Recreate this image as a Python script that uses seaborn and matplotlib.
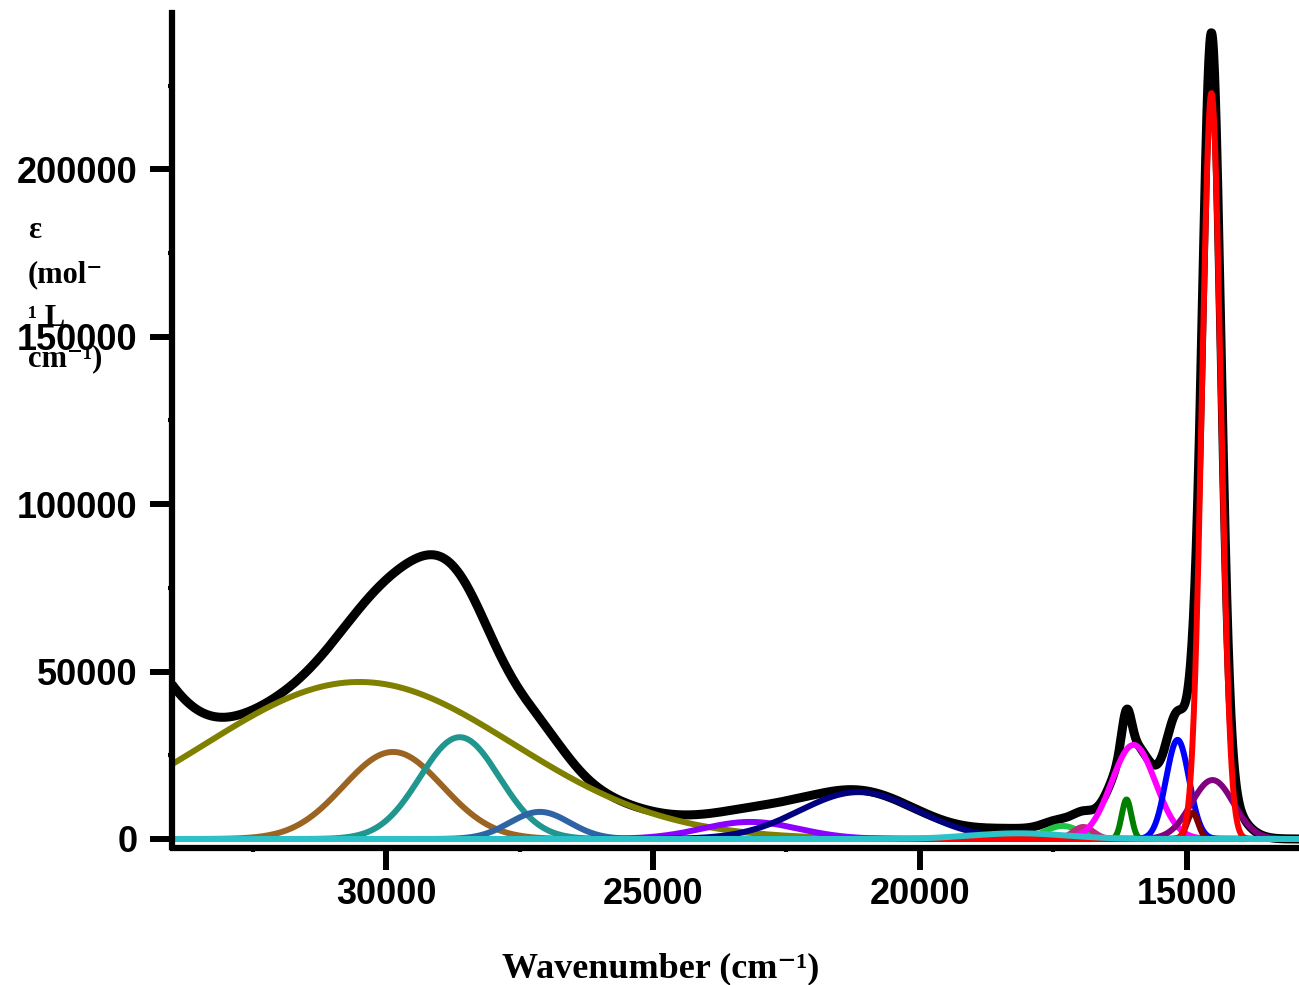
import numpy as np
import pandas as pd
import matplotlib
matplotlib.use("Agg")
import matplotlib.pyplot as plt
from matplotlib.ticker import MultipleLocator
import seaborn as sns

# ---------------- data (Gaussian band decomposition) -------------
band_names   = ["olive", "brown", "teal", "steel", "violet", "navy", "green",
                "pink_small", "pink_broad", "magenta", "darkgreen", "blue",
                "purple", "darkred", "red", "cyan"]
band_centers = [30500, 29870, 28620, 27120, 23180, 21150, 17330,
                16940, 18100, 16000, 16130, 15174,
                14520, 14893, 14540, 18150]
band_heights = [46900, 26000, 30400, 8100, 5100, 14000, 3900,
                3600, 1000, 28100, 11800, 29600,
                17600, 7800, 222800, 1700]
band_sigmas  = [2880, 930, 745, 560, 900, 1100, 320,
                190, 700, 410, 90, 215,
                395, 105, 175, 900]
band_colors  = ["#808000", "#9C6422", "#21968F", "#2E63A6", "#8C00FF", "#000080", "#1EC443",
                "#BF2A80", "#C0287F", "#FF00FF", "#008000", "#0000FF",
                "#800080", "#800000", "#FF0000", "#2BC3C9"]
# band above the plotted range (contributes to total only)
uv_center, uv_height, uv_sigma = 35500, 63000, 1070

x_ticks = [15000, 20000, 25000, 30000]
y_ticks = [0, 50000, 100000, 150000, 200000]

# ---------------- build curves -------------
w = np.linspace(12900, 34000, 2400)
rows = []
total = uv_height * np.exp(-(w - uv_center) ** 2 / (2 * uv_sigma ** 2))
for n, c, h, s in zip(band_names, band_centers, band_heights, band_sigmas):
    g = h * np.exp(-(w - c) ** 2 / (2 * s ** 2))
    total = total + g
    rows.append(pd.DataFrame({"w": w, "eps": g, "band": n}))
df = pd.concat(rows, ignore_index=True)
df_tot = pd.DataFrame({"w": w, "eps": total})

# ---------------- plot -------------
sns.set_style("white")
plt.rcParams["font.family"] = ["Liberation Sans", "DejaVu Sans"]
plt.rcParams["font.weight"] = "bold"
for k in ["text.color", "axes.labelcolor", "xtick.color", "ytick.color", "axes.edgecolor"]:
    plt.rcParams[k] = "black"

fig = plt.figure(figsize=(12.99, 9.85), dpi=100)
ax = fig.add_axes([172.5 / 1299, 1 - 847.5 / 985, 1 - 172.5 / 1299, (847.5 - 13) / 985])

sns.lineplot(data=df_tot, x="w", y="eps", color="black", linewidth=6.5, ax=ax,
             errorbar=None, sort=False)
sns.lineplot(data=df, x="w", y="eps", hue="band", hue_order=band_names,
             palette=dict(zip(band_names, band_colors)), linewidth=4.3,
             legend=False, ax=ax, errorbar=None, sort=False)

ax.set_xlim(34000, 12900)
ax.set_ylim(-2540, 246700)
ax.set_xlabel("")
ax.set_ylabel("")

for sp in ["top", "right"]:
    ax.spines[sp].set_visible(False)
for sp in ["left", "bottom"]:
    ax.spines[sp].set_linewidth(4.5)
    ax.spines[sp].set_color("black")

ax.set_xticks(x_ticks)
ax.set_yticks(y_ticks)
ax.set_xticklabels([str(v) for v in x_ticks])
ax.set_yticklabels([str(v) for v in y_ticks])
ax.xaxis.set_minor_locator(MultipleLocator(2500))
ax.yaxis.set_minor_locator(MultipleLocator(25000))
ax.tick_params(which="major", direction="out", length=16, width=4.3,
               labelsize=26, color="black", labelcolor="black", bottom=True, left=True)
ax.tick_params(axis="y", which="major", pad=9)
ax.tick_params(axis="x", which="major", pad=5)
ax.tick_params(which="minor", direction="out", length=3, width=3,
               color="black", bottom=True, left=True)
for lbl in ax.get_xticklabels() + ax.get_yticklabels():
    lbl.set_fontweight("bold")
    lbl.set_color("black")

serif = ["Liberation Serif", "DejaVu Serif"]
ylab_lines = ["ε", "(mol⁻", "¹ L", "cm⁻¹)"]
ylab_base = [238, 282, 326, 366]
for t, yb in zip(ylab_lines, ylab_base):
    fig.text(28 / 1299, 1 - yb / 985, t, family=serif, fontweight="bold",
             fontsize=22, ha="left", va="baseline", zorder=0, color="black")

fig.text(661 / 1299, 1 - 977 / 985, "Wavenumber (cm⁻¹)", family=serif,
         fontweight="bold", fontsize=26, ha="center", va="baseline", color="black")

fig.savefig("out.png", dpi=100)
